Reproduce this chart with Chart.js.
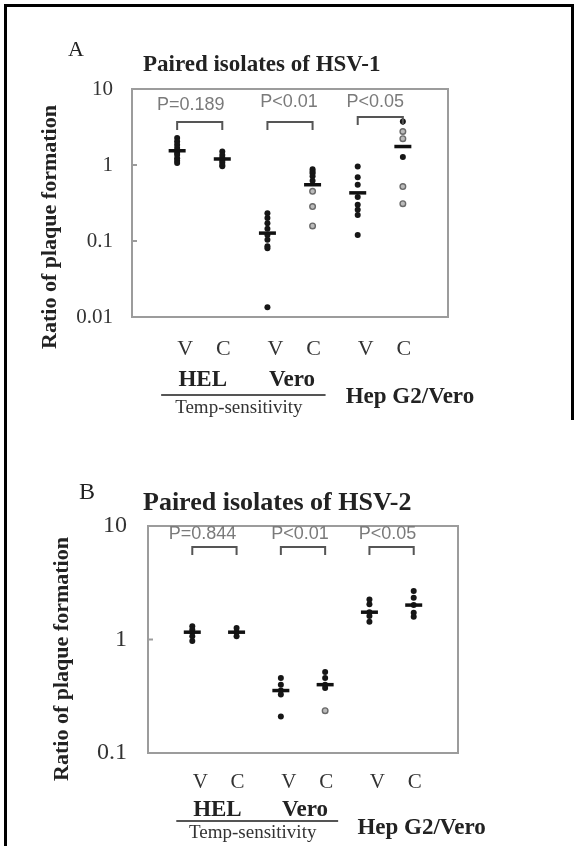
<!DOCTYPE html>
<html>
<head>
<meta charset="utf-8">
<script src="https://cdn.jsdelivr.net/npm/chart.js@4.4.1/dist/chart.umd.min.js"></script>
<style>
  body { margin: 0; background: #fff; }
  #page { position: relative; width: 577px; height: 846px; background: #fff; overflow: hidden; }
  .frame { position: absolute; background: #000; }
  canvas { position: absolute; left: 0; }
</style>
</head>
<body>
<div id="page">
  <div class="frame" style="left:4px;top:4px;width:3px;height:842px"></div>
  <div class="frame" style="left:4px;top:4px;width:570px;height:3px"></div>
  <div class="frame" style="left:571px;top:4px;width:3px;height:416px"></div>
  <canvas id="chartA" width="577" height="423" style="top:0"></canvas>
  <canvas id="chartB" width="577" height="423" style="top:423px"></canvas>
</div>
<script>
// categories along x (V = vesicle isolate, C = paired isolate)
var cats = ['V', 'C', 'V', 'C', 'V', 'C'];
var cellLabels = ['HEL', 'Vero'];
var groupLabel = 'Temp-sensitivity';
var otherLabel = 'Hep G2/Vero';
var yTitle = 'Ratio of plaque formation';

// ticks
var yTicksA = [0.01, 0.1, 1, 10];
var yTicksB = [0.1, 1, 10];

// Panel A - HSV-1 (dark points, gray points, means)
var helV1 = [2.26, 2.04, 1.85, 1.68, 1.45, 1.36, 1.23, 1.14, 1.06];
var helC1 = [1.5, 1.35, 1.25, 1.15, 1.08, 1.0, 0.96];
var veroV1 = [0.232, 0.2, 0.171, 0.145, 0.12, 0.104, 0.085, 0.08, 0.0134];
var veroC1 = [0.88, 0.82, 0.78, 0.71, 0.62];
var veroC1gray = [0.45, 0.284, 0.158];
var hepV1 = [0.955, 0.69, 0.55, 0.38, 0.3, 0.257, 0.22, 0.12];
var hepC1 = [3.74, 1.27];
var hepC1gray = [2.76, 2.22, 0.52, 0.31];
var means1 = [1.54, 1.2, 0.127, 0.55, 0.43, 1.75];
var pText1 = ['P=0.189', 'P<0.01', 'P<0.05'];

// Panel B - HSV-2
var helV2 = [1.31, 1.22, 1.16, 1.07, 0.97];
var helC2 = [1.26, 1.16, 1.07];
var veroV2 = [0.458, 0.4, 0.355, 0.327, 0.21];
var veroC2 = [0.518, 0.458, 0.4, 0.374];
var veroC2gray = [0.236];
var hepV2 = [2.25, 2.04, 1.74, 1.61, 1.43];
var hepC2 = [2.67, 2.33, 2.01, 1.72, 1.59];
var hepC2gray = [];
var means2 = [1.16, 1.16, 0.355, 0.4, 1.74, 2.01];
var pText2 = ['P=0.844', 'P<0.01', 'P<0.05'];

// compared pairs (category numbers)
var pairs = [[1, 2], [3, 4], [5, 6]];

function pts(xPos, arr) {
  return arr.map(function(v) { return {x: xPos, y: v}; });
}

var SERIF = '"Liberation Serif", "Times New Roman", serif';

function txt(ctx, s, x, y, font, color, align) {
  ctx.font = font;
  ctx.fillStyle = color;
  ctx.textAlign = align || 'center';
  ctx.textBaseline = 'middle';
  ctx.fillText(s, x, y);
}

//draws frame, brackets, P values and the category rows under the plot
var panelDecor = {
  id: 'panelDecor',
  afterDraw: function(chart, args, o) {
    var ctx = chart.ctx, a = chart.chartArea;
    var xs = chart.scales.x, ys = chart.scales.y;
    var px = function(v) { return xs.getPixelForValue(v); };
    ctx.save();

    ctx.strokeStyle = '#9c9c9c';
    ctx.lineWidth = 2;
    ctx.strokeRect(a.left, a.top, a.right - a.left, a.bottom - a.top);
    ys.ticks.forEach(function(t) {
      var py = ys.getPixelForValue(t.value);
      ctx.beginPath();
      ctx.moveTo(a.left, py);
      ctx.lineTo(a.left + 5, py);
      ctx.stroke();
    });

    txt(ctx, o.letter, o.letterX, o.letterY, o.letterFont, '#222');
    txt(ctx, o.title, o.titleX, o.titleY, o.titleFont, '#222', 'left');

    // rotated y title
    ctx.save();
    ctx.translate(o.yTitleX, o.yTitleY);
    ctx.rotate(-Math.PI / 2);
    txt(ctx, yTitle, 0, 0, o.yTitleFont, '#222');
    ctx.restore();

    // brackets + P values
    ctx.strokeStyle = '#555';
    ctx.lineWidth = 2;
    pairs.forEach(function(p, i) {
      var x1 = px(p[0]), x2 = px(p[1]);
      var top = a.top + o.brTop[i];
      ctx.beginPath();
      ctx.moveTo(x1, top + o.brLen);
      ctx.lineTo(x1, top);
      ctx.lineTo(x2, top);
      ctx.lineTo(x2, top + o.brLen);
      ctx.stroke();
      txt(ctx, o.pText[i], (x1 + x2) / 2 + o.pShift[i], a.top + o.pY[i], o.pFont, '#7a7a7a');
    });

    // V / C row
    cats.forEach(function(c, i) {
      txt(ctx, c, px(i + 1) + (c === 'V' ? 8 : 1), a.bottom + o.rowCat, o.catFont, '#333');
    });
    txt(ctx, cellLabels[0], (px(1) + px(2)) / 2 + 3, a.bottom + o.rowCell, o.cellFont, '#222');
    txt(ctx, cellLabels[1], (px(3) + px(4)) / 2 + 2, a.bottom + o.rowCell, o.cellFont, '#222');
    ctx.strokeStyle = '#555';
    ctx.beginPath();
    ctx.moveTo(px(1) - 16, a.bottom + o.rowLine);
    ctx.lineTo(px(4) + 13, a.bottom + o.rowLine);
    ctx.stroke();
    txt(ctx, groupLabel, (px(1) + px(4)) / 2 - 6, a.bottom + o.rowGroup, o.groupFont, '#333');
    txt(ctx, otherLabel, px(5) - 12, a.bottom + o.rowOther, o.cellFont, '#222', 'left');

    ctx.restore();
  }
};

function makeChart(id, sets, means, yTicks, yMin, yMax, pad, axisW, tickFont, tickPad, deco) {
  var dark = [], gray = [];
  sets.dark.forEach(function(arr, i) { dark = dark.concat(pts(i + 1, arr)); });
  sets.gray.forEach(function(arr, i) { gray = gray.concat(pts(i + 1, arr)); });
  var meanPts = means.map(function(v, i) { return {x: i + 1, y: v}; });

  return new Chart(document.getElementById(id), {
    type: 'scatter',
    data: {
      datasets: [{
        data: meanPts,
        pointStyle: 'line',
        pointRadius: 8.5,
        borderWidth: 3.5,
        borderColor: '#111'
      }, {
        data: dark,
        pointRadius: 3,
        pointBackgroundColor: '#161616',
        pointBorderColor: '#161616',
        borderWidth: 0
      }, {
        data: gray,
        pointRadius: 2.8,
        pointBackgroundColor: '#bbb',
        pointBorderColor: '#6a6a6a',
        borderWidth: 1.4
      }]
    },
    options: {
      responsive: false,
      devicePixelRatio: 1,
      animation: false,
      layout: { padding: pad },
      plugins: { legend: { display: false }, tooltip: { enabled: false }, panelDecor: deco },
      scales: {
        x: { type: 'linear', min: 0, max: 7, display: false },
        y: {
          type: 'logarithmic',
          min: yMin,
          max: yMax,
          grid: { display: false, drawTicks: false },
          border: { display: false },
          afterBuildTicks: function(axis) {
            axis.ticks = yTicks.map(function(v) { return {value: v}; });
          },
          afterFit: function(axis) { axis.width = axisW; },
          ticks: {
            color: '#333',
            padding: tickPad,
            font: { family: SERIF, size: tickFont },
            callback: function(v) { return String(v); }
          }
        }
      }
    },
    plugins: [panelDecor]
  });
}

makeChart('chartA',
  { dark: [helV1, helC1, veroV1, veroC1, hepV1, hepC1], gray: [[], [], [], veroC1gray, [], hepC1gray] },
  means1, yTicksA, 0.01, 10,
  { left: 0, top: 89, right: 129, bottom: 106 }, 132, 21, 19,
  {
    letter: 'A', letterX: 76, letterY: 50, letterFont: '22px ' + SERIF,
    title: 'Paired isolates of HSV-1', titleX: 143, titleY: 65, titleFont: 'bold 23px ' + SERIF,
    yTitleX: 50, yTitleY: 227, yTitleFont: 'bold 22px ' + SERIF,
    pText: pText1, pY: [16, 13, 13], pShift: [-9, -1, -5], pFont: '18px "Liberation Sans", sans-serif',
    brTop: [33, 33, 28], brLen: 8,
    rowCat: 32, rowCell: 63, rowLine: 78, rowGroup: 91, rowOther: 80,
    catFont: '22px ' + SERIF, cellFont: 'bold 23px ' + SERIF, groupFont: '19px ' + SERIF
  });

makeChart('chartB',
  { dark: [helV2, helC2, veroV2, veroC2, hepV2, hepC2], gray: [[], [], [], veroC2gray, [], hepC2gray] },
  means2, yTicksB, 0.1, 10,
  { left: 0, top: 103, right: 119, bottom: 93 }, 148, 24, 21,
  {
    letter: 'B', letterX: 87, letterY: 70, letterFont: '24px ' + SERIF,
    title: 'Paired isolates of HSV-2', titleX: 143, titleY: 80, titleFont: 'bold 26px ' + SERIF,
    yTitleX: 62, yTitleY: 236, yTitleFont: 'bold 22px ' + SERIF,
    pText: pText2, pY: [8, 8, 8], pShift: [-12, -3, -4], pFont: '18px "Liberation Sans", sans-serif',
    brTop: [21, 21, 21], brLen: 8,
    rowCat: 29, rowCell: 57, rowLine: 68, rowGroup: 80, rowOther: 75,
    catFont: '21px ' + SERIF, cellFont: 'bold 23px ' + SERIF, groupFont: '19px ' + SERIF
  });
</script>
</body>
</html>
